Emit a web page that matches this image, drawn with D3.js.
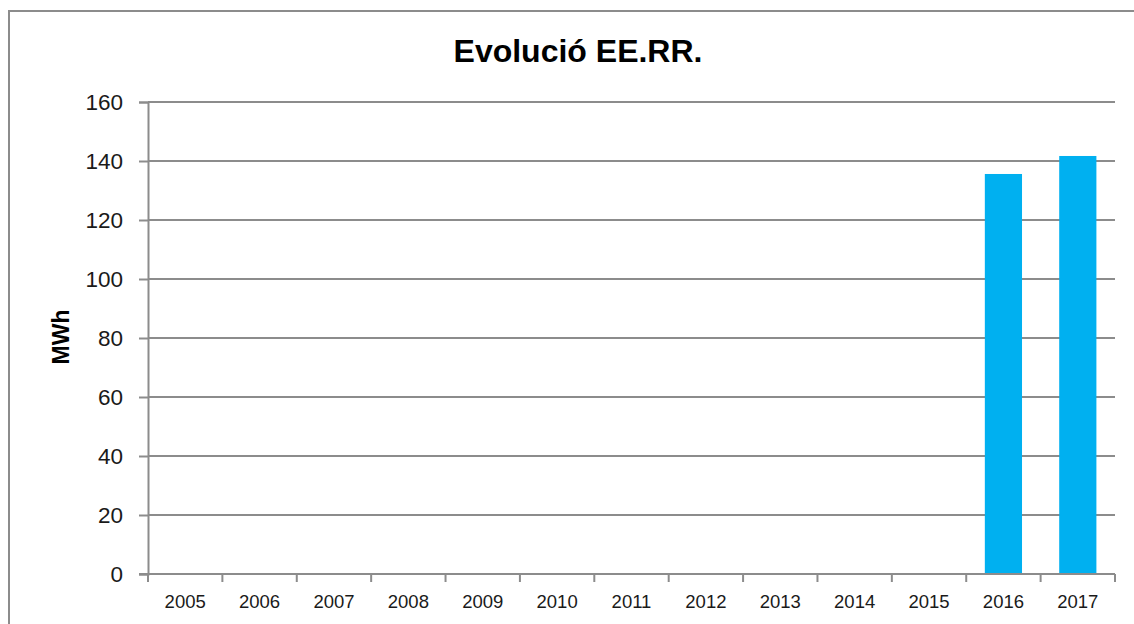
<!DOCTYPE html>
<html><head><meta charset="utf-8">
<script src="https://cdn.jsdelivr.net/npm/d3@7"></script>
<style>body{margin:0;background:#fff;}svg{display:block;}</style>
</head><body>
<svg id="c" width="1134" height="624"></svg>
<script>
const categories = ["2005","2006","2007","2008","2009","2010","2011","2012","2013","2014","2015","2016","2017"];
const values = [0,0,0,0,0,0,0,0,0,0,0,135.6,141.7];
const yTicks = [0,20,40,60,80,100,120,140,160];
const title = "Evolució EE.RR.";
const yTitle = "MWh";

const svg = d3.select("#c");
const font = "'Liberation Sans', Arial, sans-serif";
const m = {left:148, right:1115, top:102, bottom:574};
const grey = "#8c8c8c";

svg.append("rect").attr("x",9).attr("y",11).attr("width",1140).attr("height",640)
  .attr("fill","none").attr("stroke",grey).attr("stroke-width",2);

const x = d3.scaleBand().domain(categories).range([m.left,m.right]).paddingInner(0.5).paddingOuter(0.25);
const xb = d3.scaleBand().domain(categories).range([m.left,m.right]);
const y = d3.scaleLinear().domain([0,160]).range([m.bottom,m.top]);

// gridlines
svg.append("g").selectAll("line").data(yTicks.filter(d=>d>0)).join("line")
  .attr("x1",m.left).attr("x2",m.right).attr("y1",d=>y(d)).attr("y2",d=>y(d))
  .attr("stroke",grey).attr("stroke-width",2);

// bars
svg.append("g").selectAll("rect").data(categories.map((c,i)=>({c,v:values[i]})).filter(d=>d.v>0)).join("rect")
  .attr("x",d=>x(d.c)).attr("width",x.bandwidth())
  .attr("y",d=>y(d.v)).attr("height",d=>y(0)-y(d.v))
  .attr("fill","#00b0f0");

// y axis
const ya = svg.append("g").attr("transform",`translate(${m.left},0)`)
  .call(d3.axisLeft(y).tickValues(yTicks).tickSize(9).tickPadding(16));
ya.select(".domain").attr("stroke",grey).attr("stroke-width",2);
ya.selectAll(".tick line").attr("stroke",grey).attr("stroke-width",2);
ya.selectAll(".tick text").attr("font-family",font).attr("font-size",22.5).attr("fill","#1a1a1a");

// x axis
const xa = svg.append("g").attr("transform",`translate(0,${m.bottom})`)
  .call(d3.axisBottom(xb).tickSize(0).tickPadding(21));
xa.select(".domain").remove();
xa.append("line").attr("x1",m.left-9).attr("x2",m.right).attr("y1",0).attr("y2",0)
  .attr("stroke",grey).attr("stroke-width",2);
xa.selectAll(".tick text").attr("font-family",font).attr("font-size",18.5).attr("fill","#1a1a1a");
const bounds = categories.map(c=>xb(c)).concat([m.right]);
xa.append("g").selectAll("line").data(bounds).join("line")
  .attr("x1",d=>d).attr("x2",d=>d).attr("y1",0).attr("y2",8)
  .attr("stroke",grey).attr("stroke-width",2);

svg.append("text").attr("x",578).attr("y",62).attr("text-anchor","middle")
  .attr("font-family",font).attr("font-weight","bold").attr("font-size",32).attr("fill","#000").text(title);

svg.append("text").attr("transform",`translate(69,337) rotate(-90)`).attr("text-anchor","middle")
  .attr("font-family",font).attr("font-weight","bold").attr("font-size",23).attr("fill","#000").text(yTitle);
</script>
</body></html>
